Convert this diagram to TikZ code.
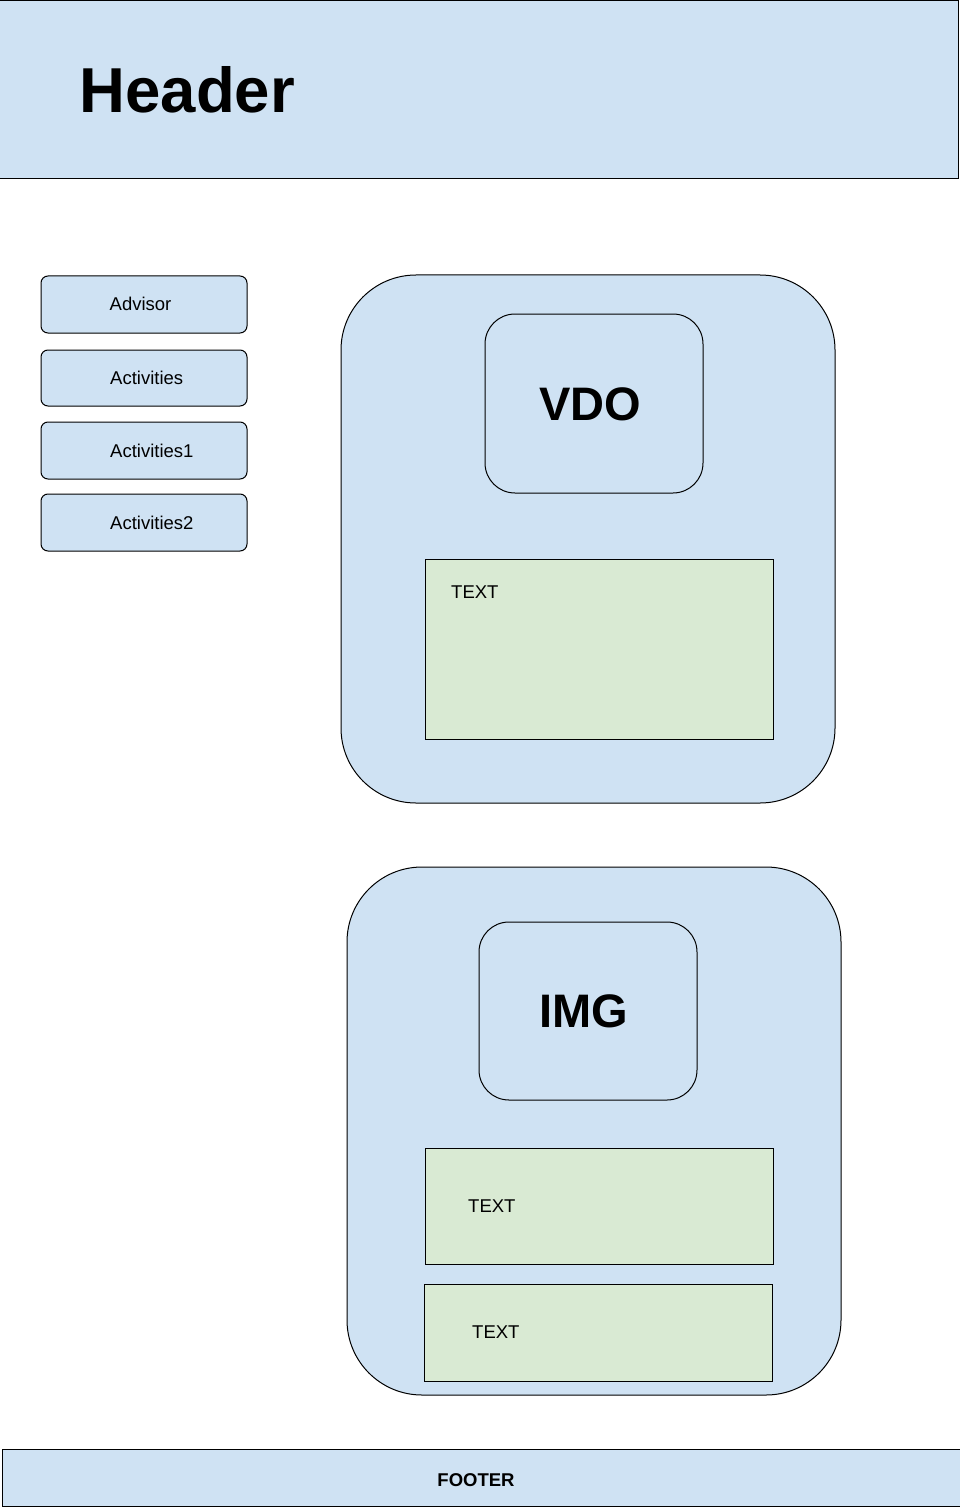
\documentclass[tikz,border=0pt]{standalone}
\usepackage{fontspec}
\setmainfont{Liberation Sans}
\definecolor{lblue}{HTML}{CFE2F3}
\definecolor{lgreen}{HTML}{D9EAD3}
\begin{document}
\begin{tikzpicture}[x=1pt,y=-1pt,
  panel/.style={draw=black, fill=lblue, line width=1pt},
  btn/.style={panel, rounded corners=7pt},
  cont/.style={panel, rounded corners=75pt},
  media/.style={panel, rounded corners=30pt},
  gbox/.style={draw=black, fill=lgreen, line width=1pt},
  lbl/.style={inner sep=0pt, font=\fontsize{18.5}{20}\selectfont},
  big/.style={inner sep=0pt, font=\fontsize{47}{50}\selectfont\bfseries}]
\useasboundingbox (0,0) rectangle (959,1511);
\fill[white] (0,0) rectangle (959,1511);
% header
\draw[panel] (-3,0.5) rectangle (958,179);
\node[inner sep=0pt, anchor=west, font=\fontsize{63.5}{70}\selectfont\bfseries] (header) at (79.5,89.5) {Header};
% menu buttons
\draw[btn] (41,276) rectangle (247,333);
\node[lbl, anchor=west] (advisor) at (109.5,304) {Advisor};
\draw[btn] (41,350) rectangle (247,406);
\node[lbl, anchor=west] (act) at (110,378) {Activities};
\draw[btn] (41,422) rectangle (247,479);
\node[lbl, anchor=west] (act1) at (110,450.5) {Activities1};
\draw[btn] (41,494) rectangle (247,551);
\node[lbl, anchor=west] (act2) at (110,522.5) {Activities2};
% VDO container
\draw[cont] (341,275) rectangle (835,803);
\draw[media] (485,314) rectangle (703,493);
\node[big] (vdo) at (590,404) {VDO};
\draw[gbox] (425,559) rectangle (773,739);
\node[lbl, anchor=west] (t1) at (451,592) {TEXT};
% IMG container
\draw[cont] (347,867) rectangle (841,1395);
\draw[media] (479,922) rectangle (697,1100);
\node[big] (img) at (584,1011) {IMG};
\draw[gbox] (425,1148) rectangle (773,1264);
\node[lbl, anchor=west] (t2) at (468,1206) {TEXT};
\draw[gbox] (424,1284) rectangle (772,1381);
\node[lbl, anchor=west] (t3) at (472,1332) {TEXT};
% footer
\draw[panel] (2,1449) rectangle (963,1506);
\node[lbl, font=\fontsize{18.5}{20}\selectfont\bfseries] (footer) at (476,1480) {FOOTER};
\end{tikzpicture}
\end{document}
